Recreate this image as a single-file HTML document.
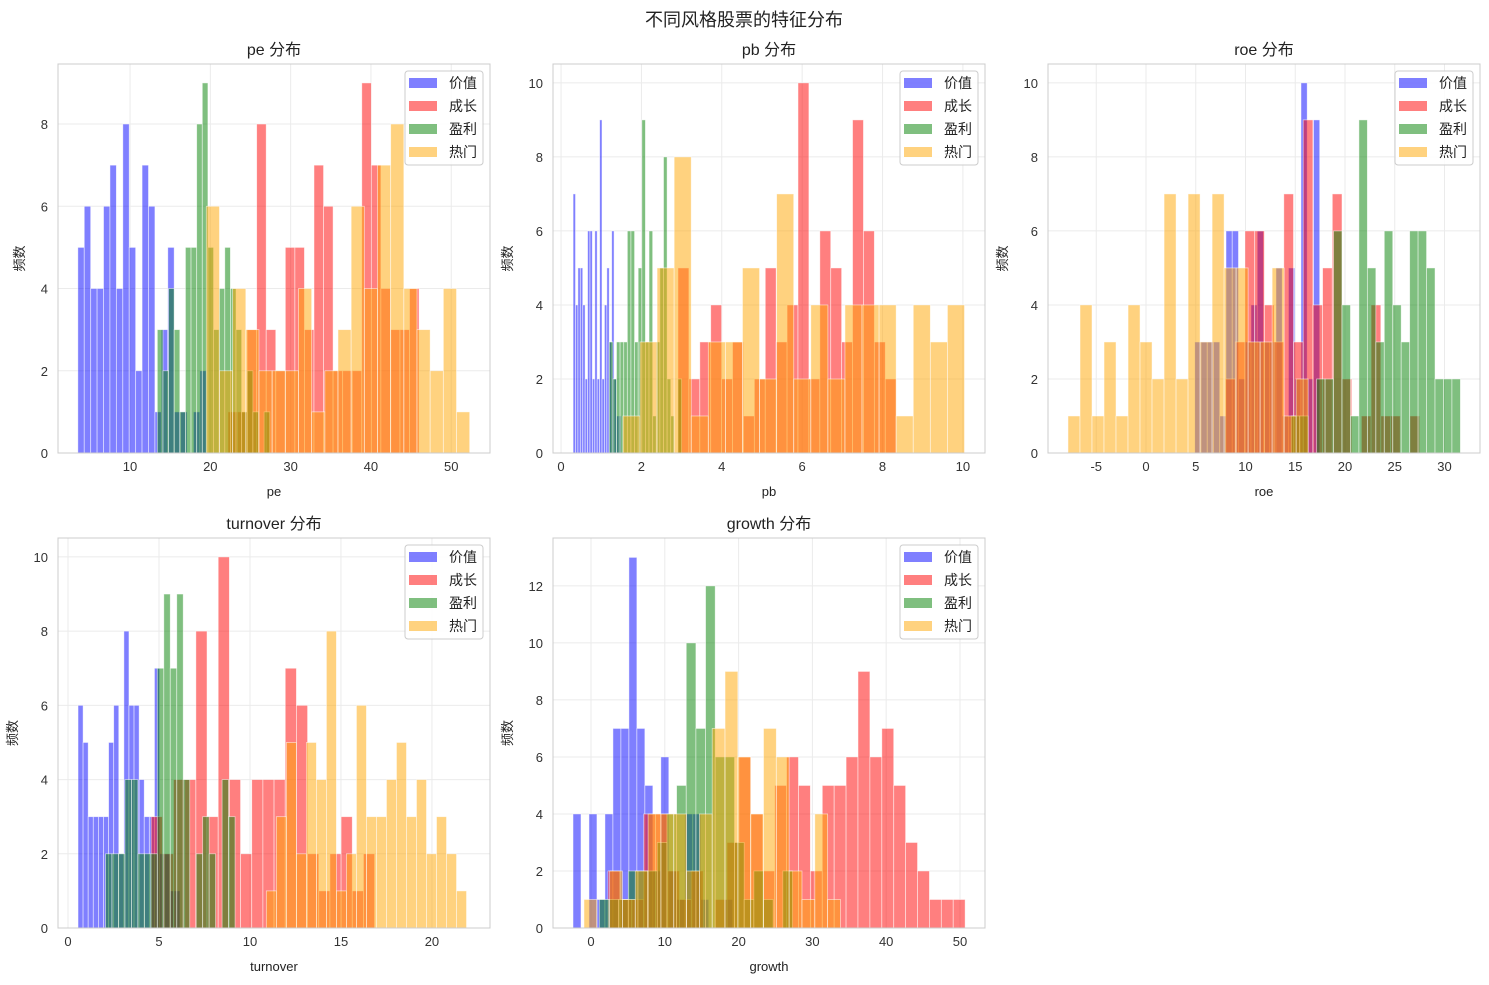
<!DOCTYPE html>
<html><head><meta charset="utf-8">
<style>
body{margin:0;background:#fff;}
svg{display:block;font-family:"Liberation Sans","Noto Sans CJK SC",sans-serif;}
</style></head>
<body>
<svg id="fig" width="1489" height="985" viewBox="0 0 1489 985" xmlns="http://www.w3.org/2000/svg">
<text x="744" y="26" text-anchor="middle" font-size="18" fill="#222">不同风格股票的特征分布</text>
</svg>
<script>
// ---- data: [start, end] bin edges + counts per series ----
const seriesNames = ["价值","成长","盈利","热门"];
const pe_value_range=[3.5,19.5];  const pe_value=[5,6,4,4,6,7,4,8,5,2,7,6,1,3,5,1,1,0,1,2];
const pe_growth_range=[22.2,46.0]; const pe_growth=[1,1,3,8,3,2,5,5,3,7,6,2,2,2,9,7,4,3,3,4];
const pe_profit_range=[13.4,27.4]; const pe_profit=[3,2,4,3,1,5,5,8,9,5,3,4,5,4,3,1,2,1,0,1];
const pe_hot_range=[19.5,52.3];   const pe_hot=[6,2,4,3,2,2,2,4,1,2,3,6,4,7,8,4,3,2,4,1];

const pb_value_range=[0.3,1.5];   const pb_value=[7,4,5,5,4,2,6,6,2,6,2,9,2,4,5,3,6,2,1,1];
const pb_growth_range=[2.91,8.34]; const pb_growth=[5,2,3,4,2,3,1,2,5,3,4,10,2,6,5,3,9,6,3,2];
const pb_profit_range=[1.2,3.0];  const pb_profit=[3,2,3,3,3,6,6,3,5,9,3,6,1,3,5,8,2,1,0,2];
const pb_hot_range=[1.54,10.04];  const pb_hot=[1,3,5,8,1,3,3,5,2,7,2,4,2,4,4,4,1,4,3,4];

const roe_value_range=[4.9,17.46]; const roe_value=[3,3,3,3,1,6,6,2,3,4,6,3,3,5,1,5,2,10,2,9];
const roe_growth_range=[8.0,27.5]; const roe_growth=[2,3,6,6,4,3,7,3,9,4,5,7,2,0,1,4,1,1,0,1];
const roe_profit_range=[14.6,31.6]; const roe_profit=[1,1,0,2,2,6,4,1,9,5,3,6,4,3,6,6,5,2,2,2];
const roe_hot_range=[-7.84,16.3]; const roe_hot=[1,4,1,3,1,4,3,2,7,2,7,3,7,5,5,3,3,5,1,2];

const to_value_range=[0.55,6.15]; const to_value=[6,5,3,3,3,3,5,6,2,8,6,6,4,3,3,7,2,2,1,1];
const to_growth_range=[4.57,16.85]; const to_growth=[3,2,4,4,8,3,10,4,2,4,4,4,7,6,2,1,2,3,1,2];
const to_profit_range=[2.06,9.18]; const to_profit=[2,2,2,4,4,2,2,2,7,9,7,9,4,0,2,3,2,0,4,3];
const to_hot_range=[10.9,21.9];   const to_hot=[1,3,5,2,5,4,8,1,2,6,3,3,4,5,3,4,2,3,2,1];

const gr_value_range=[-2.44,19.2]; const gr_value=[4,0,4,1,4,7,7,13,7,5,2,6,2,1,4,4,1,0,0,1];
const gr_growth_range=[2.3,50.7]; const gr_growth=[2,1,1,4,4,2,1,2,0,1,3,6,4,2,5,6,5,2,5,5,6,9,6,7,5,3,2,1,1,1];
const gr_profit_range=[1.13,27.3]; const gr_profit=[1,1,1,2,2,2,3,4,5,10,7,12,6,6,3,1,2,1,0,2];
const gr_hot_range=[-0.95,33.8];  const gr_hot=[1,0,2,1,2,4,4,4,2,4,7,9,6,4,7,6,2,1,4,1];

const pe_xticks=[10,20,30,40,50], pe_yticks=[0,2,4,6,8];
const pb_xticks=[0,2,4,6,8,10], pb_yticks=[0,2,4,6,8,10];
const roe_xticks=[-5,0,5,10,15,20,25,30], roe_yticks=[0,2,4,6,8,10];
const to_xticks=[0,5,10,15,20], to_yticks=[0,2,4,6,8,10];
const gr_xticks=[0,10,20,30,40,50], gr_yticks=[0,2,4,6,8,10,12];

const fills=["rgba(0,0,255,0.5)","rgba(255,0,0,0.5)","rgba(0,128,0,0.5)","rgba(255,165,0,0.5)"];
const NS="http://www.w3.org/2000/svg";
const svg=document.getElementById("fig");
function mk(tag,attrs,parent){const e=document.createElementNS(NS,tag);for(const k in attrs)e.setAttribute(k,attrs[k]);(parent||svg).appendChild(e);return e;}

const panels=[
 {key:"pe",title:"pe 分布",box:[58,64,490,453],xd:[1.03,54.83],ymax:9.46,xt:pe_xticks,yt:pe_yticks,yl:24,
  s:[[pe_value_range,pe_value],[pe_growth_range,pe_growth],[pe_profit_range,pe_profit],[pe_hot_range,pe_hot]]},
 {key:"pb",title:"pb 分布",box:[553,64,985,453],xd:[-0.2,10.55],ymax:10.51,xt:pb_xticks,yt:pb_yticks,yl:512,
  s:[[pb_value_range,pb_value],[pb_growth_range,pb_growth],[pb_profit_range,pb_profit],[pb_hot_range,pb_hot]]},
 {key:"roe",title:"roe 分布",box:[1048,64,1480,453],xd:[-9.85,33.57],ymax:10.51,xt:roe_xticks,yt:roe_yticks,yl:1007,
  s:[[roe_value_range,roe_value],[roe_growth_range,roe_growth],[roe_profit_range,roe_profit],[roe_hot_range,roe_hot]]},
 {key:"turnover",title:"turnover 分布",box:[58,538,490,928],xd:[-0.55,23.19],ymax:10.51,xt:to_xticks,yt:to_yticks,yl:17,
  s:[[to_value_range,to_value],[to_growth_range,to_growth],[to_profit_range,to_profit],[to_hot_range,to_hot]]},
 {key:"growth",title:"growth 分布",box:[553,538,985,928],xd:[-5.15,53.39],ymax:13.68,xt:gr_xticks,yt:gr_yticks,yl:512,
  s:[[gr_value_range,gr_value],[gr_growth_range,gr_growth],[gr_profit_range,gr_profit],[gr_hot_range,gr_hot]]}
];

panels.forEach(p=>{
  const [L,T,R,B]=p.box;
  const g=mk("g",{});
  
  
  const X=v=>L+(v-p.xd[0])/(p.xd[1]-p.xd[0])*(R-L);
  const Y=v=>B-v/p.ymax*(B-T);
  // grid
  p.xt.forEach(t=>{const l=mk("line",{x1:X(t),x2:X(t),y1:T,y2:B,stroke:"#ebebeb","stroke-width":1},g);
    
    const tx=mk("text",{x:X(t),y:B+18,"text-anchor":"middle","font-size":13,fill:"#333"},g);tx.textContent=t;
    });
  p.yt.forEach(t=>{const l=mk("line",{x1:L,x2:R,y1:Y(t),y2:Y(t),stroke:"#ebebeb","stroke-width":1},g);
    
    const tx=mk("text",{x:L-10,y:Y(t)+5,"text-anchor":"end","font-size":13,fill:"#333"},g);tx.textContent=t;
    });
  // bars
  p.s.forEach((sr,si)=>{
    const [rng,counts]=sr;const w=(rng[1]-rng[0])/counts.length;
    counts.forEach((c,i)=>{if(c<=0)return;
      const x0=X(rng[0]+i*w),x1=X(rng[0]+(i+1)*w);
      const r=mk("rect",{x:x0,y:Y(c),width:Math.max(0,x1-x0),height:B-Y(c),fill:fills[si],stroke:"rgba(255,255,255,0.6)","stroke-width":0.8},g);
      
      
    });
  });
  const fr=mk("rect",{x:L,y:T,width:R-L,height:B-T,fill:"none",stroke:"#cccccc","stroke-width":1},g);
  
  const ti=mk("text",{x:(L+R)/2,y:T-9,"text-anchor":"middle","font-size":16,fill:"#222"},g);ti.textContent=p.title;
  
  const xl=mk("text",{x:(L+R)/2,y:B+43,"text-anchor":"middle","font-size":13,fill:"#222"},g);xl.textContent=p.key;
  
  const ym=(T+B)/2;
  const yl=mk("text",{x:p.yl,y:ym,"text-anchor":"middle","font-size":13,fill:"#222",transform:`rotate(-90 ${p.yl} ${ym})`},g);yl.textContent="频数";
  
  // legend
  const lg=mk("g",{},g);
  
  mk("rect",{x:R-85,y:T+7,width:78,height:94,rx:3,fill:"rgba(255,255,255,0.85)",stroke:"#cccccc","stroke-width":1},lg);
  seriesNames.forEach((n,i)=>{
    const e=mk("g",{},lg);
    
    mk("rect",{x:R-81,y:T+14+i*23,width:28,height:10,fill:fills[i]},e);
    const t=mk("text",{x:R-41,y:T+24+i*23,"font-size":14,fill:"#222"},e);t.textContent=n;
  });
});
</script>
</body></html>
